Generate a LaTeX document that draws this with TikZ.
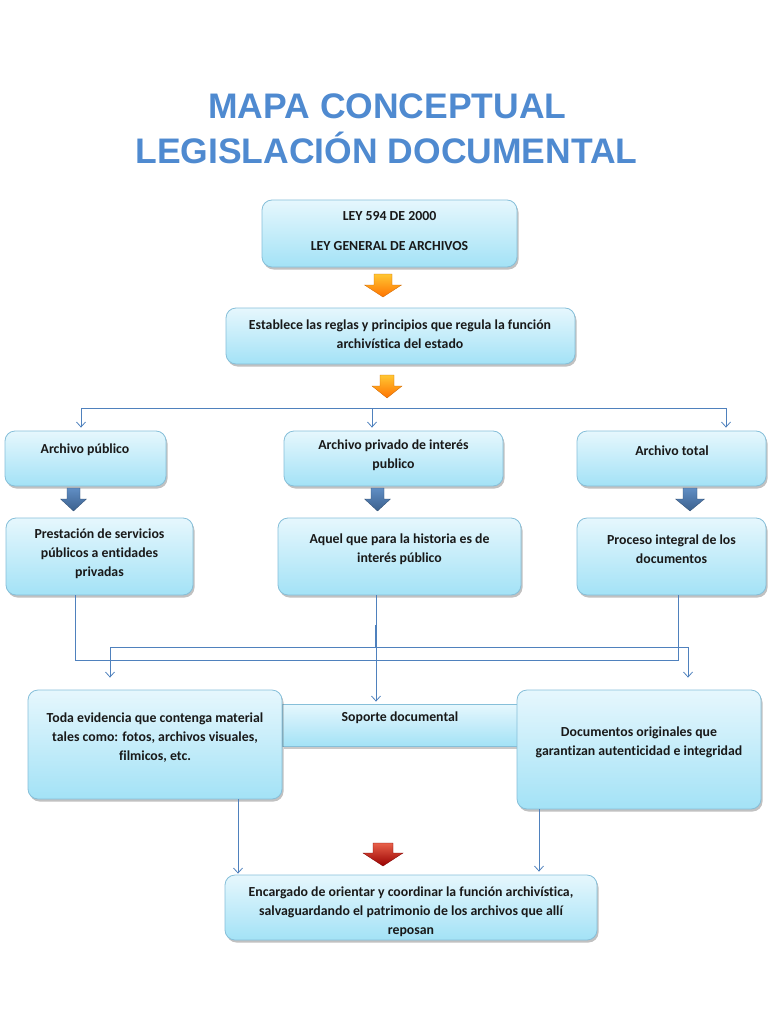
\documentclass[tikz,border=0pt]{standalone}
\usepackage{fontspec}
\setmainfont{Carlito}[Ligatures=NoCommon]
\newfontfamily\titlefont{Liberation Sans}
\usetikzlibrary{shadows,arrows.meta,calc}
\definecolor{bxtop}{HTML}{E6F7FD}
\definecolor{bxbot}{HTML}{A3E2F6}
\definecolor{bxdraw}{HTML}{86BFD9}
\definecolor{conn}{HTML}{4F81BD}
\definecolor{ttl}{HTML}{4F8AD0}
\tikzset{
  cbox/.style={draw=bxdraw, line width=0.8pt, rounded corners=10pt, top color=bxtop, bottom color=bxbot,
    drop shadow={shadow xshift=1.5pt, shadow yshift=-2.5pt, opacity=0.35, fill=black!70}, inner sep=0pt},
  sbox/.style={draw=bxdraw, line width=0.8pt, top color=bxtop, bottom color=bxbot,
    drop shadow={shadow xshift=1.5pt, shadow yshift=-2.5pt, opacity=0.3, fill=black!70}, inner sep=0pt},
  txt/.style={font=\fontsize{13.8}{19}\selectfont\bfseries, align=center, text=black!90, inner sep=0pt},
  ttxt/.style={font=\titlefont\bfseries\fontsize{35.5}{40}\selectfont, text=ttl, anchor=base, inner sep=0pt},
  link/.style={draw=conn, line width=0.8pt},
  linkarr/.style={link, -{Straight Barb[length=5pt,width=9pt]}},
  orarrow/.style={top color=orange!55!yellow!80!white, bottom color=orange!90!red, draw=orange!80!black, line width=0.3pt},
  blarrow/.style={top color=conn!90!white, bottom color=conn!75!black, draw=conn!60!black, line width=0.3pt},
  rdarrow/.style={top color=red!55!brown!80!white, bottom color=red!60!black, draw=red!50!black, line width=0.3pt},
  pics/barrow/.style n args={5}{code={
    \shade[#5] (-#1,0) -- (#1,0) -- (#1,#3) -- (#2,#3) -- (0,#4) -- (-#2,#3) -- (-#1,#3) -- cycle;}}
}
\begin{document}
\begin{tikzpicture}[x=1pt,y=-1pt]
\useasboundingbox (0,0) rectangle (768,1024);

% title
\node[ttxt] (title1) at (387.5,119) {MAPA CONCEPTUAL};
\node[ttxt] (title2) at (386.5,164) {LEGISLACIÓN DOCUMENTAL};

% boxes
\node[cbox, minimum width=255pt, minimum height=67pt] (ley) at (389.5,233.5) {};
\node[txt] (tley) at (389.5,231) {LEY 594 DE 2000\\[11pt]LEY GENERAL DE ARCHIVOS};

\node[cbox, minimum width=349pt, minimum height=56pt] (est) at (400.5,336) {};
\node[txt] (test) at (400,334) {Establece las reglas y principios que regula la función\\archivística del estado};

\node[cbox, minimum width=161pt, minimum height=55pt] (pub) at (85.5,458.5) {};
\node[txt] (tpub) at (85,450) {Archivo público};

\node[cbox, minimum width=219pt, minimum height=55pt] (priv) at (393.5,458.5) {};
\node[txt] (tpriv) at (393.5,455.5) {Archivo privado de interés\\publico};

\node[cbox, minimum width=189pt, minimum height=55pt] (tot) at (671.5,458.5) {};
\node[txt] (ttot) at (672,451) {Archivo total};

\node[cbox, minimum width=187pt, minimum height=77pt] (pres) at (99.5,556.5) {};
\node[txt] (tpres) at (99.5,554) {Prestación de servicios\\públicos a entidades\\privadas};

\node[cbox, minimum width=243pt, minimum height=77pt] (aquel) at (399.5,556.5) {};
\node[txt] (taquel) at (399.5,549.5) {Aquel que para la historia es de\\interés público};

\node[cbox, minimum width=189pt, minimum height=77pt] (proc) at (671.5,556.5) {};
\node[txt] (tproc) at (671.5,549.5) {Proceso integral de los\\documentos};

\node[sbox, minimum width=236pt, minimum height=42pt] (sop) at (400,725) {};
\node[txt] (tsop) at (400,718) {Soporte documental};

\node[cbox, minimum width=254pt, minimum height=109pt] (toda) at (155,744.5) {};
\node[txt] (ttoda) at (155,737.5) {Toda evidencia que contenga material\\tales como: fotos, archivos visuales,\\filmicos, etc.};

\node[cbox, minimum width=244pt, minimum height=119pt] (doc) at (639,749.5) {};
\node[txt] (tdoc) at (639,742.5) {Documentos originales que\\garantizan autenticidad e integridad};

\node[cbox, minimum width=372pt, minimum height=65pt] (enc) at (411,907.5) {};
\node[txt] (tenc) at (411,912) {Encargado de orientar y coordinar la función archivística,\\salvaguardando el patrimonio de los archivos que allí\\reposan};

% block arrows
\pic (oa1) at (383,274) {barrow={9}{18.5}{11}{23}{orarrow}};
\pic (oa2) at (387,375) {barrow={7}{15}{11}{23}{orarrow}};
\pic (ba1) at (73.5,488) {barrow={6.5}{13}{11}{23}{blarrow}};
\pic (ba2) at (377.5,488) {barrow={6.5}{13}{11}{23}{blarrow}};
\pic (ba3) at (690,488) {barrow={7}{14.5}{11}{23}{blarrow}};
\pic (ra1) at (383,843) {barrow={10}{20}{10}{23}{rdarrow}};

% connectors: fork to the three archivos
\coordinate (fl) at (81,408);
\coordinate (fm) at (372,408);
\coordinate (fr) at (726,408);
\draw[link] (fl) -- (fr);
\draw[linkarr, shorten >=3pt] (fl) -- (fl |- pub.north);
\draw[linkarr, shorten >=3pt] (fm) -- (fm |- priv.north);
\draw[linkarr, shorten >=3pt] (fr) -- (fr |- tot.north);

% middle connectors
\draw[link] ([xshift=-24.5pt]pres.south) -- ++(0,65) -| ([xshift=6.5pt]proc.south);
\draw[linkarr, shorten >=2pt] ([xshift=-23.5pt]aquel.south) -- ([xshift=-23.5pt]aquel.south |- sop.north);
\coordinate (m) at (375,625);
\draw[link] (m) -- ++(0,22) coordinate (mj);
\draw[linkarr, shorten >=12pt] (mj) -| ([xshift=-45pt]toda.north);
\draw[linkarr, shorten >=12pt] (mj) -| ([xshift=49pt]doc.north);

% bottom connectors
\draw[linkarr, shorten >=1pt] ([xshift=83pt]toda.south) -- ([xshift=83pt]toda.south |- enc.north);
\draw[linkarr, shorten >=3pt] ([xshift=-100pt]doc.south) -- ([xshift=-100pt]doc.south |- enc.north);
\end{tikzpicture}
\end{document}
